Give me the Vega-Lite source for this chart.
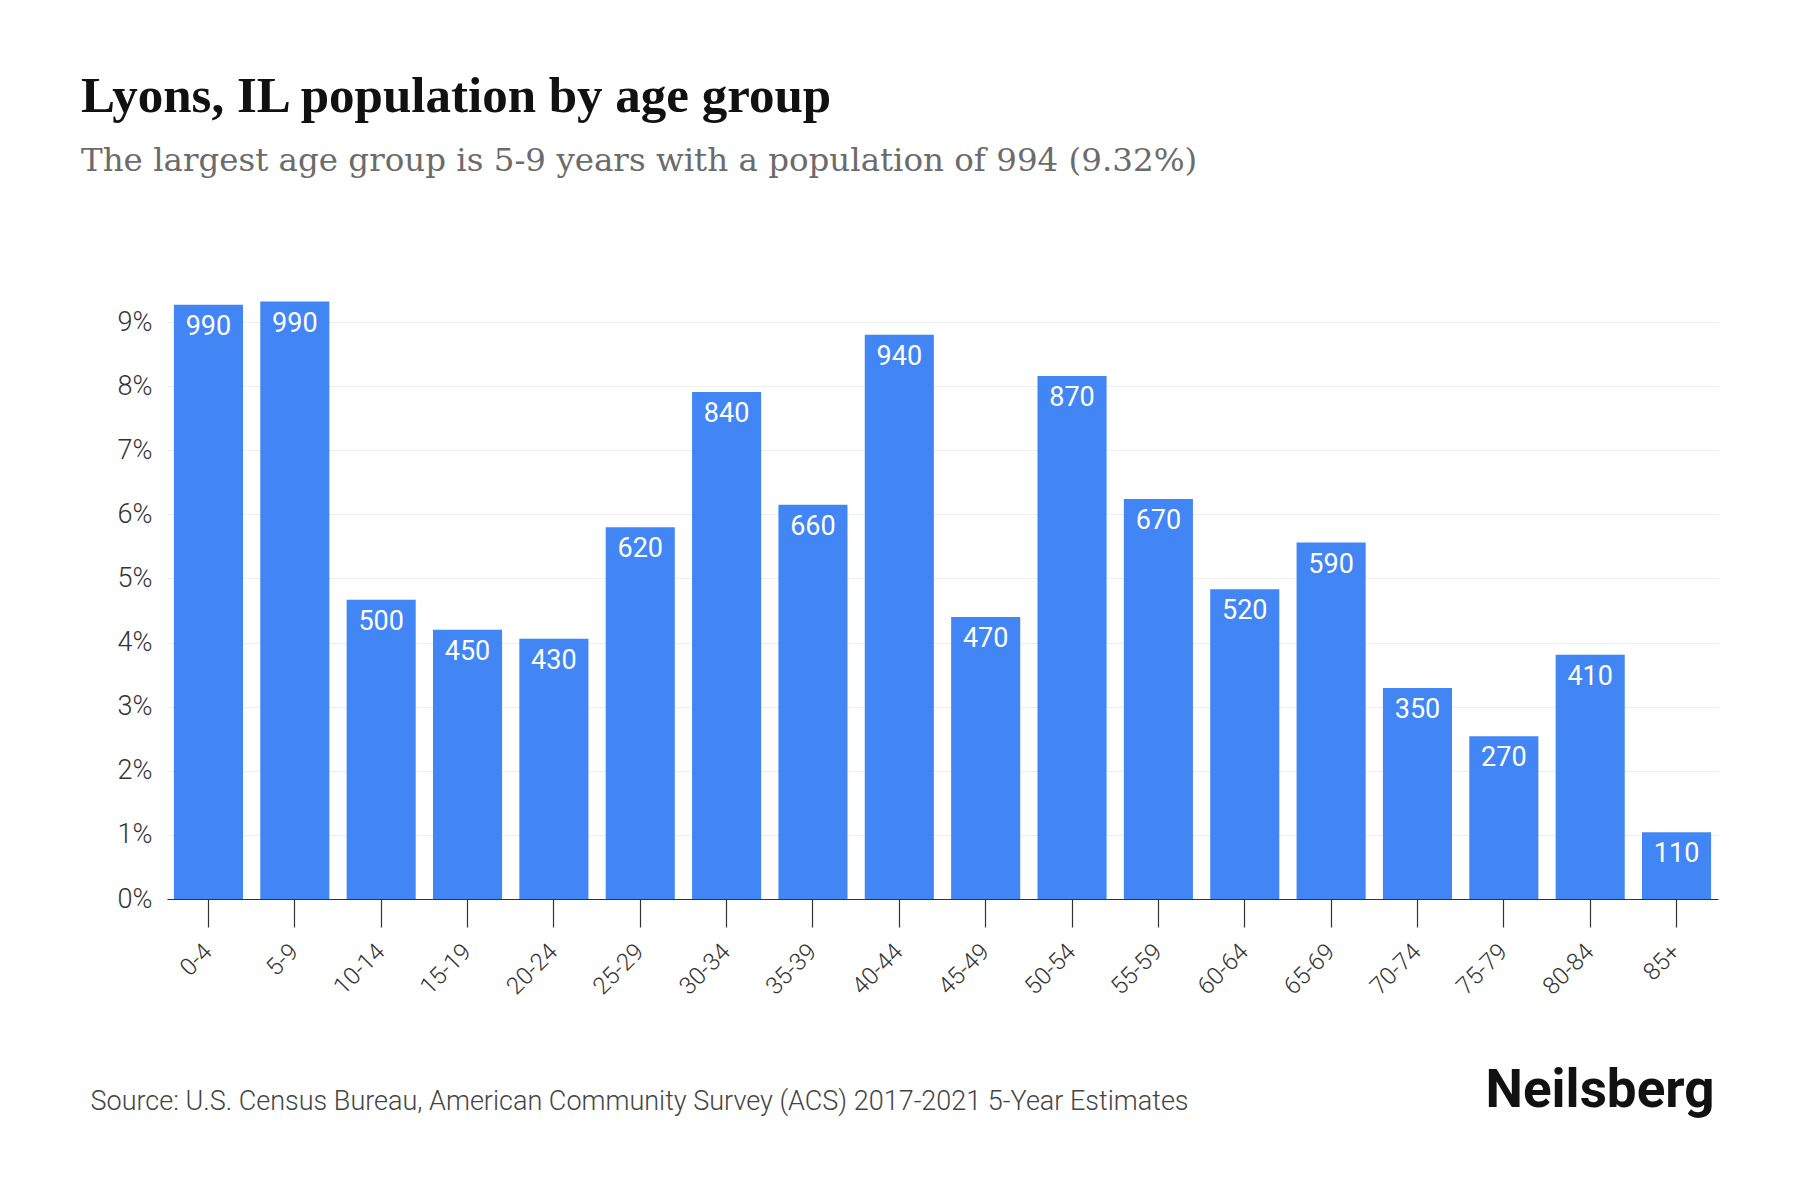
{
  "$schema": "https://vega.github.io/schema/vega-lite/v6.json",
  "width": 1551,
  "height": 609,
  "autosize": {"type": "none"},
  "padding": {"left": 167, "top": 290, "right": 82, "bottom": 301},
  "background": "white",
  "title": {
    "text": "Lyons, IL population by age group",
    "subtitle": "The largest age group is 5-9 years with a population of 994 (9.32%)",
    "anchor": "start",
    "frame": "group",
    "dx": -86,
    "offset": 112,
    "font": "Liberation Serif",
    "fontSize": 51,
    "fontWeight": "bold",
    "color": "#111111",
    "subtitleFont": "DejaVu Serif",
    "subtitleFontSize": 32.5,
    "subtitleColor": "#6b6b6b",
    "subtitleFontWeight": "normal",
    "subtitlePadding": 22
  },
  "data": {
    "values": [
      {"age": "0-4", "share": 0.0927, "label": "990"},
      {"age": "5-9", "share": 0.0932, "label": "990"},
      {"age": "10-14", "share": 0.0467, "label": "500"},
      {"age": "15-19", "share": 0.0420, "label": "450"},
      {"age": "20-24", "share": 0.0406, "label": "430"},
      {"age": "25-29", "share": 0.0580, "label": "620"},
      {"age": "30-34", "share": 0.0791, "label": "840"},
      {"age": "35-39", "share": 0.0615, "label": "660"},
      {"age": "40-44", "share": 0.0880, "label": "940"},
      {"age": "45-49", "share": 0.0440, "label": "470"},
      {"age": "50-54", "share": 0.0816, "label": "870"},
      {"age": "55-59", "share": 0.0624, "label": "670"},
      {"age": "60-64", "share": 0.0483, "label": "520"},
      {"age": "65-69", "share": 0.0556, "label": "590"},
      {"age": "70-74", "share": 0.0329, "label": "350"},
      {"age": "75-79", "share": 0.0254, "label": "270"},
      {"age": "80-84", "share": 0.0381, "label": "410"},
      {"age": "85+", "share": 0.0104, "label": "110"}
    ]
  },
  "encoding": {
    "x": {
      "field": "age",
      "type": "nominal",
      "sort": null,
      "scale": {"paddingInner": 0.2, "paddingOuter": 0.08},
      "axis": {
        "title": "Source: U.S. Census Bureau, American Community Survey (ACS) 2017-2021 5-Year Estimates",
        "titleAnchor": "start",
        "titleAlign": "left",
        "titleBaseline": "alphabetic",
        "titleX": -77,
        "titleY": 210,
        "titleFont": "Roboto",
        "titleFontSize": 27,
        "titleFontWeight": 300,
        "titleColor": "#444444",
        "labelAngle": -45,
        "labelAlign": "right",
        "labelBaseline": "middle",
        "labelFont": "Roboto",
        "labelFontSize": 24,
        "labelFontWeight": 300,
        "labelColor": "#333333",
        "labelPadding": 21,
        "tickSize": 28,
        "tickColor": "#333333",
        "tickWidth": 1.2,
        "domainColor": "#333333",
        "domainWidth": 1.2,
        "grid": false
      }
    },
    "y": {
      "field": "share",
      "type": "quantitative",
      "scale": {"domain": [0, 0.095], "nice": false}
    }
  },
  "layer": [
    {
      "mark": {"type": "bar", "color": "#4285F4"},
      "encoding": {
        "y": {
          "field": "share",
          "type": "quantitative",
          "axis": {
            "title": null,
            "values": [0, 0.01, 0.02, 0.03, 0.04, 0.05, 0.06, 0.07, 0.08, 0.09],
            "format": ".0%",
            "labelFont": "Roboto",
            "labelFontSize": 27,
            "labelFontWeight": 300,
            "labelColor": "#333333",
            "labelPadding": 15,
            "ticks": false,
            "domain": false,
            "grid": true,
            "gridColor": "#eeeeee",
            "gridWidth": 1
          }
        }
      }
    },
    {
      "mark": {
        "type": "text",
        "color": "white",
        "baseline": "top",
        "dy": 9,
        "font": "Roboto",
        "fontSize": 27,
        "fontWeight": 400
      },
      "encoding": {
        "text": {"field": "label"},
        "y": {
          "field": "share",
          "type": "quantitative",
          "axis": {
            "orient": "right",
            "title": "Neilsberg",
            "titleAngle": 0,
            "titleAlign": "right",
            "titleBaseline": "alphabetic",
            "titleX": -4,
            "titleY": 816,
            "titleFont": "Roboto",
            "titleFontSize": 53,
            "titleFontWeight": "bold",
            "titleColor": "#111111",
            "labels": false,
            "ticks": false,
            "domain": false,
            "grid": false
          }
        }
      }
    }
  ],
  "resolve": {"axis": {"y": "independent"}},
  "config": {"view": {"stroke": null}}
}
